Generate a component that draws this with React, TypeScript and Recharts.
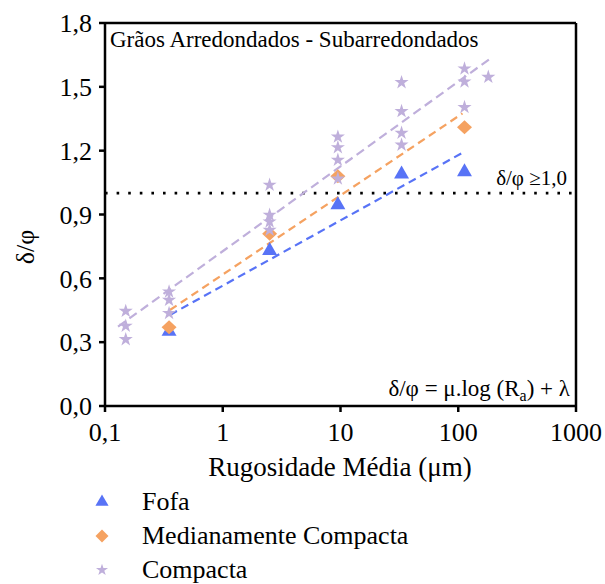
import { ScatterChart, Scatter, XAxis, YAxis, ReferenceLine, Legend, Symbols } from 'recharts';

const FONT = "'Liberation Serif', Tinos, 'DejaVu Serif', serif";

const seriesNames = ['Fofa', 'Medianamente Compacta', 'Compacta'];

// Fofa (triangles)
const fofaX = [0.35, 2.5, 9.5, 33, 113];
const fofaY = [0.35, 0.73, 0.945, 1.09, 1.1];

// Medianamente Compacta (diamonds)
const medX = [0.35, 2.5, 9.5, 113];
const medY = [0.37, 0.81, 1.08, 1.31];

// Compacta (stars)
const compX = [0.15, 0.15, 0.15, 0.35, 0.35, 0.35, 2.5, 2.5, 2.5, 2.5, 9.5, 9.5, 9.5, 9.5, 33, 33, 33, 33, 113, 113, 113, 180];
const compY = [0.446, 0.376, 0.313, 0.537, 0.498, 0.436, 1.039, 0.898, 0.866, 0.827, 1.265, 1.215, 1.156, 1.068, 1.521, 1.385, 1.283, 1.227, 1.585, 1.524, 1.404, 1.546];

// fitted trend lines (end points)
const trendFofaX = [0.356, 108.6];
const trendFofaY = [0.428, 1.19];
const trendMedX = [0.356, 108.6];
const trendMedY = [0.451, 1.375];
const trendCompX = [0.129, 183];
const trendCompY = [0.373, 1.629];

const xTicks = [0.1, 1, 10, 100, 1000];
const yTicks = [0, 0.3, 0.6, 0.9, 1.2, 1.5, 1.8];

const BLUE = '#5873F6';
const ORANGE = '#F5A261';
const LAVENDER = '#BFAFDB';

const toPoints = (xs: number[], ys: number[]) => xs.map((x, i) => ({ x, y: ys[i] }));

const fofaData = toPoints(fofaX, fofaY);
const medData = toPoints(medX, medY);
const compData = toPoints(compX, compY);

const Triangle = (props: any) => (
  <Symbols cx={props.cx} cy={props.cy} type="triangle" size={97} fill={BLUE} />
);

const Diamond = (props: any) => {
  const { cx, cy } = props;
  return <polygon points={`${cx},${cy - 7} ${cx + 7.5},${cy} ${cx},${cy + 7} ${cx - 7.5},${cy}`} fill={ORANGE} />;
};

const Star = (props: any) => (
  <Symbols cx={props.cx} cy={props.cy} type="star" size={62} fill={LAVENDER} />
);

const NoDot = () => <g />;

const legendIcon = (name: string) => {
  if (name === 'Fofa') return <Symbols cx={9} cy={9} type="triangle" size={75} fill={BLUE} />;
  if (name === 'Medianamente Compacta')
    return <polygon points="9,2.5 15.5,9 9,15.5 2.5,9" fill={ORANGE} />;
  return <Symbols cx={9} cy={9} type="star" size={45} fill={LAVENDER} />;
};

const LegendContent = (props: any) => {
  const items = (props.payload || [])
    .filter((p: any) => p.type !== 'none')
    .sort((a: any, b: any) => seriesNames.indexOf(a.value) - seriesNames.indexOf(b.value));
  return (
    <div style={{ height: 100, fontFamily: FONT, fontSize: 26, color: '#000' }}>
      {items.map((p: any) => (
        <div key={p.value} style={{ position: 'relative', height: 34, lineHeight: '34px' }}>
          <svg width={18} height={18} style={{ position: 'absolute', left: 3, top: 9 }}>
            {legendIcon(p.value)}
          </svg>
          <span style={{ position: 'absolute', left: 52, top: 1, whiteSpace: 'nowrap' }}>{p.value}</span>
        </div>
      ))}
    </div>
  );
};

const fmt = (v: number) => String(v).replace('.', ',');

const App = () => {
  return (
    <div style={{ position: 'absolute', left: 0, top: 0, width: 605, height: 584, background: '#fff' }}>
      <ScatterChart width={605} height={584} margin={{ top: 23, right: 29, left: 0, bottom: 6 }}>
        <XAxis
          dataKey="x"
          type="number"
          scale="log"
          domain={[0.1, 1000]}
          ticks={xTicks}
          allowDataOverflow
          height={72}
          tickFormatter={fmt}
          tick={{ fill: '#000', fontSize: 26, fontFamily: FONT }}
          tickSize={6}
          tickMargin={11}
          axisLine={{ stroke: '#000', strokeWidth: 2.5 }}
          tickLine={{ stroke: '#000', strokeWidth: 2.5 }}
        />
        <YAxis
          dataKey="y"
          type="number"
          domain={[0, 1.8]}
          ticks={yTicks}
          allowDataOverflow
          width={105}
          tickFormatter={(v: number) => v.toFixed(1).replace('.', ',')}
          tick={{ fill: '#000', fontSize: 26, fontFamily: FONT }}
          tickSize={6}
          tickMargin={7}
          axisLine={{ stroke: '#000', strokeWidth: 2.5 }}
          tickLine={{ stroke: '#000', strokeWidth: 2.5 }}
        />
        <ReferenceLine y={1.8} stroke="#000" strokeWidth={2.5} />
        <ReferenceLine x={1000} stroke="#000" strokeWidth={2.5} />
        <ReferenceLine y={1} stroke="#000" strokeWidth={2.8} strokeDasharray="2.6 9" />

        <Scatter data={toPoints(trendCompX, trendCompY)} shape={NoDot} legendType="none"
          line={{ stroke: LAVENDER, strokeWidth: 2.2, strokeDasharray: '9 5' }} isAnimationActive={false} />
        <Scatter data={toPoints(trendMedX, trendMedY)} shape={NoDot} legendType="none"
          line={{ stroke: ORANGE, strokeWidth: 2.2, strokeDasharray: '8 5' }} isAnimationActive={false} />
        <Scatter data={toPoints(trendFofaX, trendFofaY)} shape={NoDot} legendType="none"
          line={{ stroke: BLUE, strokeWidth: 2.2, strokeDasharray: '8 5' }} isAnimationActive={false} />

        <Scatter name="Fofa" data={fofaData} shape={Triangle} legendType="triangle" fill={BLUE} isAnimationActive={false} />
        <Scatter name="Medianamente Compacta" data={medData} shape={Diamond} legendType="diamond" fill={ORANGE} isAnimationActive={false} />
        <Scatter name="Compacta" data={compData} shape={Star} legendType="star" fill={LAVENDER} isAnimationActive={false} />

        <Legend
          layout="horizontal"
          verticalAlign="bottom"
          align="left"
          content={LegendContent}
          wrapperStyle={{ left: 90, top: 484, bottom: 'auto', width: 440 }}
        />
      </ScatterChart>

      <svg width={605} height={584} style={{ position: 'absolute', left: 0, top: 0, pointerEvents: 'none' }}
        fontFamily={FONT} fill="#000">
        <text x={110} y={47} fontSize={23}>Grãos Arredondados - Subarredondados</text>
        <text x={567} y={185} fontSize={21} textAnchor="end">δ/φ ≥1,0</text>
        <text x={570} y={396} fontSize={23} textAnchor="end">
          δ/φ = μ.log (R<tspan fontSize={16} dy={5}>a</tspan><tspan dy={-5}>) + λ</tspan>
        </text>
        <text x={340} y={476} fontSize={27} textAnchor="middle">Rugosidade Média (μm)</text>
        <text transform="translate(34, 247) rotate(-90)" fontSize={26} textAnchor="middle">δ/φ</text>
      </svg>
    </div>
  );
};

export default App;
